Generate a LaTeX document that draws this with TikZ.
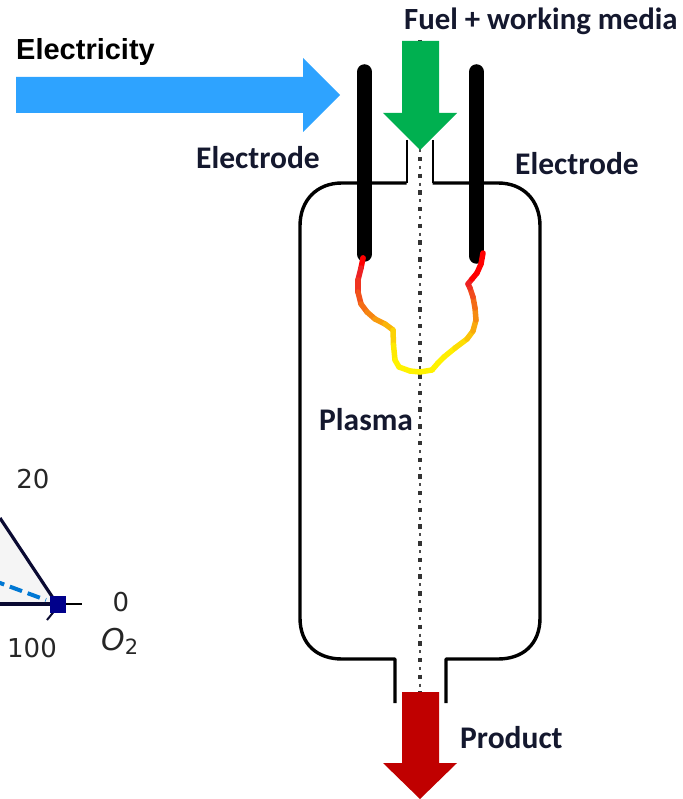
\documentclass[tikz,border=0pt]{standalone}
\usepackage{fontspec}
\setmainfont{Carlito}
\newfontfamily\arialfont{Liberation Sans}
\newfontfamily\plotfont{DejaVu Sans}
\definecolor{elecblue}{HTML}{2EA3FF}
\definecolor{fuelgreen}{HTML}{00B050}
\definecolor{prodred}{HTML}{C00000}
\definecolor{labelink}{HTML}{14182E}
\definecolor{plotink}{HTML}{262626}
\definecolor{plotnavy}{HTML}{0A0A32}
\definecolor{plotblue}{HTML}{0078D4}
\definecolor{plotsquare}{HTML}{00008B}
\tikzset{
  vessel/.style={line width=3.4pt,black,line join=round},
  neck/.style={line width=2.2pt,black,line join=round},
  electrodebar/.style={line width=15.5pt,black,line cap=round},
  blocklabel/.style={font=\bfseries\fontsize{31.5}{34}\selectfont,text=labelink,anchor=west,inner sep=0pt},
  plotlabel/.style={font=\plotfont\fontsize{26}{30}\selectfont,text=plotink,inner sep=0pt},
}
\begin{document}
\begin{tikzpicture}[x=1pt,y=-1pt]
\useasboundingbox (0,0) rectangle (682,799);
% plot fragment
\begin{scope}
\clip (0,0) rectangle (682,799);
\fill[black!4] (0,518) -- (57,604) -- (0,604) -- cycle;
\draw[plotnavy,line width=3.2pt] (0,518) -- (57,604);
\draw[plotnavy,line width=3.2pt] (0,604) -- (57,604);
\draw[black,line width=1.5pt] (57,604) -- (82,604);
\draw[plotnavy,line width=2pt] (60,604) -- (47,620);
\draw[plotblue,line width=4pt,dash pattern=on 13pt off 6pt] (-8,580) -- (46,600);
\fill[plotsquare] (50,596) rectangle (66,613);
\end{scope}
\node[plotlabel] (t20) at (33,479) {20};
\node[plotlabel] (t0) at (121,602) {0};
\node[plotlabel] (t100) at (32,648) {100};
\node[plotlabel,anchor=west,font=\plotfont\fontsize{30}{32}\selectfont] (to2) at (101,641) {{\itshape O}\raisebox{-4pt}{\fontsize{21}{23}\selectfont 2}};
% centre line
\draw[black!80,line width=3.8pt,dash pattern=on 4.5pt off 12.2pt] (420,40) -- (420,692);
\draw[black!70,line width=1.6pt,dash pattern=on 3pt off 13.7pt,dash phase=-9pt] (420,40) -- (420,692);
% vessel
\draw[neck] (406.7,140) -- (406.7,183);
\draw[neck] (432.7,140) -- (432.7,183);
\draw[vessel] (406.7,183) -- (342,183) .. controls (317,183) and (300,200) .. (300,226)
  -- (300,618) .. controls (300,644) and (317,659) .. (342,659)
  -- (395,659) -- (395,703);
\draw[vessel] (432.7,183) -- (498,183) .. controls (523,183) and (540,200) .. (540,226)
  -- (540,618) .. controls (540,644) and (523,659) .. (498,659)
  -- (446,659) -- (446,703);
% electrodes
\draw[electrodebar] (364.5,72) -- (364.5,254);
\draw[electrodebar] (476.5,72) -- (476.5,256);
% arc
\begin{scope}[line width=5.5pt,line cap=round,line join=round]
\def\flame{363/258/0,361/268/0,358/280/4,358/292/18,361/304/32,367/312/44,375/319/55,385/324/65,393/330/78,393.5/345/92,395/360/100,399/367/100,410/371/100,420/372/100,432/370/100,438/363/100,444/357/100,455/348/96,467/339/85,473/331/72,476/320/60,475/308/44,473/297/30,470/288/14,468/284/4,472/279/0,477/273/0,481/264/0,483/253/0}
\foreach \x/\y/\p [remember=\x as \lx (initially 363),remember=\y as \ly (initially 258),remember=\p as \lp (initially 0)] in \flame {
  \pgfmathtruncatemacro{\q}{(\p+\lp)/2}
  \draw[color=yellow!\q!red] (\lx,\ly) -- (\x,\y);
}
\end{scope}
% arrows
\fill[elecblue] (16,77) -- (303,77) -- (303,58) -- (340,95) -- (303,132) -- (303,113) -- (16,113) -- cycle;
\fill[fuelgreen] (402,41) -- (439,41) -- (439,113) -- (457,113) -- (420,150) -- (383,113) -- (402,113) -- cycle;
\fill[prodred] (402,692) -- (439,692) -- (439,763) -- (457,763) -- (420,799) -- (383,763) -- (402,763) -- cycle;
% labels
\node[font=\arialfont\bfseries\fontsize{29}{32}\selectfont,anchor=west,inner sep=0pt,text=black] (elec) at (16,52) {Electricity};
\node[blocklabel,font=\bfseries\fontsize{30.8}{34}\selectfont] (fuel) at (404,21) {Fuel + working media};
\node[blocklabel] (el1) at (196,158) {Electrode};
\node[blocklabel] (el2) at (515,164) {Electrode};
\node[blocklabel] (pl) at (319,420) {Plasma};
\node[blocklabel] (pr) at (460,738) {Product};
\end{tikzpicture}
\end{document}
